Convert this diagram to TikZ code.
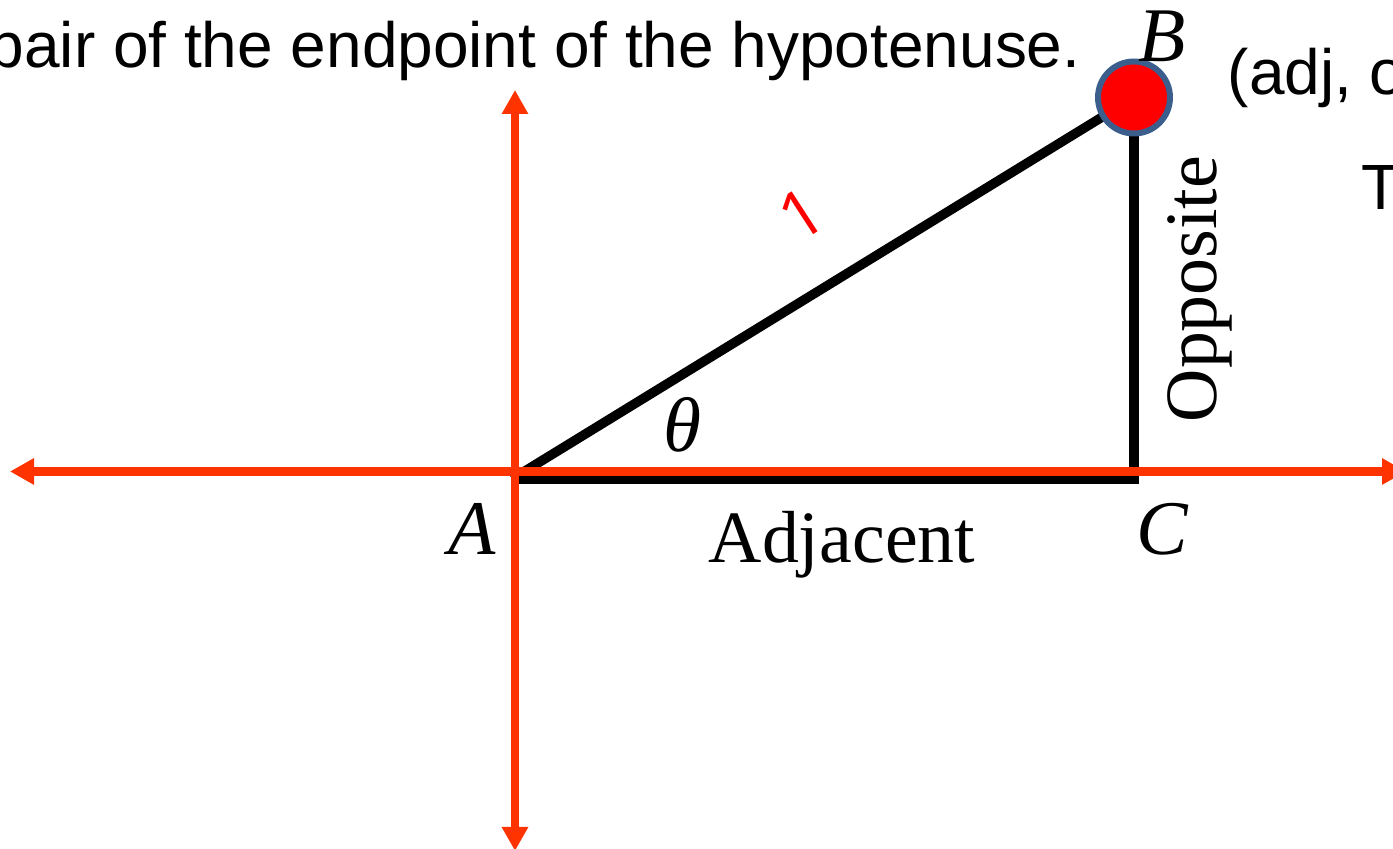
\documentclass[tikz,border=0pt]{standalone}
\usepackage{fontspec}
\setmainfont{Liberation Serif}
\newfontfamily\slidesans{Liberation Sans}
\newfontfamily\inksans{Open Sans}
\usetikzlibrary{arrows.meta}
\definecolor{axisred}{HTML}{FF3300}
\definecolor{dotred}{HTML}{FF0000}
\definecolor{dotrim}{HTML}{3B5E8C}
\tikzset{
  tri side/.style={draw=black, line width=2.7pt, line join=miter},
  axis line/.style={draw=axisred, line width=2.3pt,
    arrows={Triangle[length=0.24cm, width=0.25cm]-Triangle[length=0.24cm, width=0.25cm]}},
  end dot/.style={circle, fill=dotred, draw=dotrim, line width=1.7pt,
    minimum size=0.72cm, inner sep=0pt},
  vertex label/.style={font=\fontsize{22}{26}\selectfont\itshape, inner sep=0pt},
  side label/.style={font=\fontsize{21}{25}\selectfont, inner sep=0pt},
  slide text/.style={font=\slidesans\fontsize{18.2}{22}\selectfont, inner sep=0pt,
    anchor=base west},
}
\begin{document}
\begin{tikzpicture}[x=1cm, y=1cm]
  \useasboundingbox (0,0) rectangle (13.93,8.49);
  \clip (0,0) rectangle (13.93,8.49);
  % triangle corners
  \coordinate (A) at (5.12,3.70);
  \coordinate (C) at (11.34,3.70);
  \coordinate (B) at (11.34,7.515);
  \draw[tri side] (A) -- (C) -- (B);
  \draw[tri side] (A) -- (B);
  % axes
  \coordinate (xl) at (0.10,3.775);
  \coordinate (xr) at (14.06,3.775);
  \coordinate (yt) at (5.15,7.59);
  \coordinate (yb) at (5.15,-0.02);
  \draw[axis line] (xl) -- (xr);
  \draw[axis line] (yb) -- (yt);
  \node[end dot] (Bdot) at (B) {};
  % labels
  \node[vertex label, anchor=base] (lblB) at (11.62,7.87) {B};
  \node[vertex label, anchor=base] (lblA) at (4.72,2.94) {A};
  \node[vertex label, anchor=base] (lblC) at (11.62,2.94) {C};
  \node[vertex label, anchor=base] (lblth) at (6.82,3.97) {θ};
  \node[side label, anchor=base] (adj) at (8.42,2.86) {Adjacent};
  \node[side label, anchor=base, rotate=90] (opp) at (12.16,5.60) {Opposite};
  \node[text=dotred, font=\inksans\fontsize{19}{21}\selectfont, inner sep=0pt,
    rotate=33] (hyp) at (8.02,6.35) {1};
  % slide text
  \node[slide text] (line1) at (-0.12,7.81) {pair of the endpoint of the hypotenuse.};
  \node[slide text] (coord) at (12.27,7.54) {(adj, opp)};
  \node[slide text] (line2) at (13.61,6.39) {T};
\end{tikzpicture}
\end{document}
